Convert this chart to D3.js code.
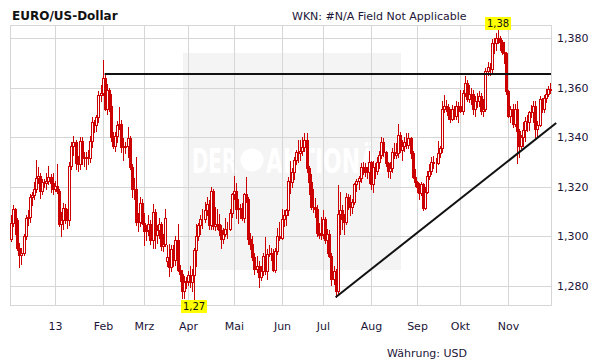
<!DOCTYPE html>
<html>
<head>
<meta charset="utf-8">
<script src="https://cdn.jsdelivr.net/npm/d3@7"></script>
<style>
  body { margin: 0; background: #fff; }
  svg { display: block; font-family: "DejaVu Sans", Verdana, sans-serif; }
</style>
</head>
<body>
<svg id="chart" width="611" height="364"></svg>
<script>
// daily EUR/USD bars, 3 Dec 2012 .. 29 Nov 2013 (weekdays), one line per month
const opens = [
  1.2990,1.3055,1.3110,1.3065,1.2955,1.2925,1.2935,1.3000,1.3075,1.3080,1.3160,1.3165,1.3190,1.3235,1.3245,1.3185,1.3220,1.3215,1.3225,1.3240,1.3215,
  1.3190,1.3205,1.3185,1.3050,1.3065,1.3115,1.3080,1.3065,1.3285,1.3365,1.3380,1.3295,1.3290,1.3385,1.3315,1.3320,1.3320,1.3315,1.3385,1.3460,1.3450,1.3480,1.3570,
  1.3580,1.3640,1.3515,1.3590,1.3525,1.3400,1.3365,1.3405,1.3450,1.3455,1.3360,1.3360,1.3365,1.3395,1.3280,1.3190,1.3190,1.3060,1.3060,1.3135,
  1.3055,1.3020,1.3025,1.3050,1.2985,1.3100,1.3005,1.3025,1.3050,1.2960,1.2970,1.2900,1.2915,1.2875,1.2950,1.2905,1.2985,1.2865,1.2850,1.2780,1.2815,
  1.2820,1.2845,1.2815,1.2845,1.2945,1.3000,1.3045,1.3070,1.3070,1.3105,1.3130,1.3045,1.3185,1.3040,1.3050,1.3050,1.3025,1.2990,1.3010,1.3030,1.3030,1.3095,
  1.3170,1.3185,1.3110,1.3115,1.3110,1.3075,1.3170,1.3150,1.2990,1.2970,1.2915,1.2870,1.2880,1.2835,1.2860,1.2920,1.2860,1.2930,1.2930,1.2935,1.2865,1.2940,1.3000,
  1.2995,1.3070,1.3085,1.3105,1.3225,1.3220,1.3260,1.3310,1.3340,1.3335,1.3345,1.3360,1.3390,1.3275,1.3220,1.3120,1.3120,1.3110,1.3015,1.3005,
  1.3010,1.3070,1.2985,1.3010,1.2920,1.2830,1.2860,1.2780,1.3090,1.3105,1.3070,1.3060,1.3160,1.3140,1.3120,1.3140,1.3210,1.3225,1.3235,1.3280,1.3280,1.3260,1.3260,
  1.3300,1.3210,1.3280,1.3265,1.3300,1.3330,1.3380,1.3340,1.3295,1.3265,1.3275,1.3340,1.3330,1.3335,1.3410,1.3350,1.3365,1.3380,1.3370,1.3395,1.3335,1.3240,
  1.3220,1.3200,1.3175,1.3210,1.3115,1.3180,1.3245,1.3265,1.3300,1.3295,1.3295,1.3335,1.3355,1.3515,1.3525,1.3520,1.3490,1.3475,1.3515,1.3485,1.3525,
  1.3525,1.3505,1.3580,1.3620,1.3555,1.3575,1.3575,1.3515,1.3545,1.3545,1.3565,1.3505,1.3515,1.3665,1.3685,1.3675,1.3780,1.3780,1.3800,1.3800,1.3785,1.3745,1.3740,
  1.3585,1.3485,1.3515,1.3455,1.3515,1.3425,1.3365,1.3400,1.3430,1.3465,1.3460,1.3500,1.3500,1.3525,1.3435,1.3450,1.3555,1.3515,1.3560,1.3575,1.3595
];
const highs = [
  1.3087,1.3128,1.3115,1.3075,1.2975,1.2955,1.3010,1.3085,1.3105,1.3170,1.3180,1.3220,1.3308,1.3280,1.3255,1.3230,1.3230,1.3255,1.3285,1.3250,1.3255,
  1.3225,1.3292,1.3190,1.3100,1.3135,1.3130,1.3110,1.3300,1.3380,1.3403,1.3390,1.3325,1.3400,1.3400,1.3340,1.3340,1.3350,1.3405,1.3480,1.3470,1.3490,1.3585,1.3610,
  1.3711,1.3660,1.3615,1.3600,1.3575,1.3420,1.3420,1.3465,1.3520,1.3470,1.3395,1.3380,1.3440,1.3405,1.3290,1.3235,1.3320,1.3095,1.3160,1.3150,
  1.3095,1.3045,1.3085,1.3065,1.3130,1.3110,1.3045,1.3075,1.3060,1.3010,1.3110,1.2965,1.2970,1.2965,1.2965,1.3000,1.3050,1.2885,1.2865,1.2840,1.2835,
  1.2860,1.2880,1.2870,1.2955,1.3050,1.3055,1.3085,1.3110,1.3140,1.3160,1.3145,1.3200,1.3190,1.3120,1.3110,1.3090,1.3045,1.3035,1.3075,1.3060,1.3110,1.3175,
  1.3243,1.3215,1.3150,1.3130,1.3135,1.3175,1.3240,1.3160,1.3015,1.3000,1.2935,1.2920,1.2900,1.2880,1.2935,1.2998,1.2950,1.2965,1.2955,1.2950,1.2955,1.3035,1.3060,
  1.3110,1.3105,1.3110,1.3240,1.3305,1.3275,1.3320,1.3350,1.3390,1.3390,1.3400,1.3415,1.3416,1.3285,1.3250,1.3190,1.3155,1.3125,1.3055,1.3080,
  1.3105,1.3080,1.3030,1.3025,1.2935,1.2880,1.2870,1.3206,1.3180,1.3125,1.3090,1.3175,1.3170,1.3165,1.3150,1.3215,1.3230,1.3245,1.3295,1.3300,1.3295,1.3280,1.3345,
  1.3305,1.3305,1.3295,1.3320,1.3345,1.3400,1.3395,1.3345,1.3300,1.3300,1.3355,1.3375,1.3375,1.3452,1.3420,1.3390,1.3400,1.3415,1.3415,1.3400,1.3345,1.3270,
  1.3225,1.3215,1.3220,1.3215,1.3200,1.3265,1.3290,1.3320,1.3325,1.3315,1.3385,1.3365,1.3545,1.3570,1.3550,1.3535,1.3515,1.3530,1.3525,1.3545,1.3540,
  1.3590,1.3590,1.3646,1.3630,1.3610,1.3600,1.3590,1.3565,1.3580,1.3585,1.3580,1.3555,1.3680,1.3705,1.3700,1.3795,1.3800,1.3820,1.3832,1.3810,1.3790,1.3785,1.3745,
  1.3590,1.3525,1.3535,1.3535,1.3545,1.3435,1.3410,1.3460,1.3480,1.3490,1.3505,1.3530,1.3545,1.3545,1.3465,1.3565,1.3560,1.3570,1.3595,1.3605,1.3620
];
const lows = [
  1.2980,1.3040,1.3010,1.2945,1.2877,1.2890,1.2925,1.2990,1.3045,1.3060,1.3125,1.3150,1.3180,1.3215,1.3155,1.3170,1.3200,1.3190,1.3210,1.3180,1.3170,
  1.3185,1.3175,1.3040,1.3000,1.3030,1.3055,1.3035,1.3045,1.3270,1.3330,1.3270,1.3265,1.3270,1.3290,1.3285,1.3270,1.3290,1.3300,1.3360,1.3420,1.3425,1.3460,1.3545,
  1.3570,1.3510,1.3495,1.3505,1.3385,1.3355,1.3345,1.3380,1.3435,1.3340,1.3310,1.3335,1.3320,1.3270,1.3160,1.3150,1.3045,1.3020,1.3040,1.3050,
  1.2965,1.2985,1.3005,1.2970,1.2955,1.2955,1.2975,1.2995,1.2945,1.2940,1.2960,1.2880,1.2840,1.2860,1.2880,1.2885,1.2860,1.2820,1.2750,1.2750,1.2790,
  1.2805,1.2795,1.2780,1.2745,1.2880,1.2985,1.3010,1.3035,1.3060,1.3085,1.3030,1.3030,1.3030,1.3025,1.3030,1.3005,1.2955,1.2975,1.3000,1.2995,1.3025,1.3080,
  1.3150,1.3075,1.3055,1.3075,1.3065,1.3060,1.3140,1.2970,1.2950,1.2905,1.2850,1.2855,1.2796,1.2825,1.2845,1.2850,1.2830,1.2920,1.2905,1.2860,1.2855,1.2930,1.2985,
  1.2990,1.3040,1.3045,1.3085,1.3175,1.3200,1.3230,1.3290,1.3300,1.3310,1.3330,1.3345,1.3260,1.3170,1.3110,1.3100,1.3080,1.3000,1.2995,1.2990,
  1.2995,1.2975,1.2935,1.2915,1.2805,1.2810,1.2755,1.2765,1.3010,1.3030,1.3010,1.3050,1.3110,1.3085,1.3095,1.3130,1.3185,1.3190,1.3220,1.3250,1.3245,1.3235,1.3215,
  1.3190,1.3180,1.3235,1.3250,1.3275,1.3315,1.3325,1.3285,1.3240,1.3235,1.3260,1.3315,1.3315,1.3320,1.3340,1.3310,1.3345,1.3355,1.3355,1.3315,1.3235,1.3205,
  1.3180,1.3150,1.3165,1.3105,1.3110,1.3175,1.3230,1.3250,1.3275,1.3260,1.3290,1.3320,1.3340,1.3500,1.3505,1.3475,1.3460,1.3470,1.3475,1.3475,1.3460,
  1.3500,1.3495,1.3565,1.3545,1.3540,1.3535,1.3495,1.3485,1.3520,1.3525,1.3495,1.3485,1.3505,1.3650,1.3650,1.3655,1.3740,1.3750,1.3780,1.3750,1.3735,1.3700,1.3575,
  1.3480,1.3460,1.3440,1.3445,1.3295,1.3320,1.3355,1.3366,1.3385,1.3425,1.3430,1.3480,1.3460,1.3400,1.3400,1.3445,1.3500,1.3500,1.3540,1.3565,1.3580
];
const closes = [
  1.3055,1.3110,1.3065,1.2955,1.2925,1.2935,1.3000,1.3075,1.3080,1.3160,1.3165,1.3190,1.3235,1.3245,1.3185,1.3220,1.3215,1.3225,1.3240,1.3215,1.3190,
  1.3205,1.3185,1.3050,1.3065,1.3115,1.3080,1.3065,1.3285,1.3365,1.3380,1.3295,1.3290,1.3385,1.3315,1.3320,1.3320,1.3315,1.3385,1.3460,1.3450,1.3480,1.3570,1.3580,
  1.3640,1.3515,1.3590,1.3525,1.3400,1.3365,1.3405,1.3450,1.3455,1.3360,1.3360,1.3365,1.3395,1.3280,1.3190,1.3190,1.3060,1.3060,1.3135,1.3055,
  1.3020,1.3025,1.3050,1.2985,1.3100,1.3005,1.3025,1.3050,1.2960,1.2970,1.3075,1.2915,1.2875,1.2950,1.2905,1.2985,1.2865,1.2850,1.2780,1.2815,1.2820,
  1.2845,1.2815,1.2845,1.2945,1.3000,1.3045,1.3070,1.3070,1.3105,1.3130,1.3045,1.3185,1.3040,1.3050,1.3050,1.3025,1.2990,1.3010,1.3030,1.3030,1.3095,1.3170,
  1.3185,1.3110,1.3115,1.3110,1.3075,1.3170,1.3150,1.2990,1.2970,1.2915,1.2870,1.2880,1.2835,1.2860,1.2920,1.2860,1.2930,1.2930,1.2935,1.2865,1.2940,1.3000,1.2995,
  1.3070,1.3085,1.3105,1.3225,1.3220,1.3260,1.3310,1.3340,1.3335,1.3345,1.3360,1.3390,1.3275,1.3220,1.3120,1.3120,1.3110,1.3015,1.3005,1.3010,
  1.3070,1.2985,1.3010,1.2920,1.2830,1.2860,1.2780,1.3090,1.3105,1.3070,1.3060,1.3160,1.3140,1.3120,1.3140,1.3210,1.3225,1.3235,1.3280,1.3280,1.3260,1.3260,1.3300,
  1.3210,1.3280,1.3265,1.3300,1.3330,1.3380,1.3340,1.3295,1.3265,1.3275,1.3340,1.3330,1.3335,1.3410,1.3350,1.3365,1.3380,1.3370,1.3395,1.3335,1.3240,1.3220,
  1.3200,1.3175,1.3210,1.3115,1.3180,1.3245,1.3265,1.3300,1.3295,1.3295,1.3335,1.3355,1.3515,1.3525,1.3520,1.3490,1.3475,1.3515,1.3485,1.3525,1.3525,
  1.3505,1.3580,1.3620,1.3555,1.3575,1.3575,1.3515,1.3545,1.3545,1.3565,1.3505,1.3515,1.3665,1.3685,1.3675,1.3780,1.3780,1.3800,1.3800,1.3785,1.3745,1.3740,1.3585,
  1.3485,1.3515,1.3455,1.3515,1.3425,1.3365,1.3400,1.3430,1.3465,1.3460,1.3500,1.3500,1.3525,1.3435,1.3450,1.3555,1.3515,1.3560,1.3575,1.3595,1.3590
];

const firstDay = '2012-12-03';
const lastDay = '2013-11-29';
const monthLabels = ['13', 'Feb', 'Mrz', 'Apr', 'Mai', 'Jun', 'Jul', 'Aug', 'Sep', 'Okt', 'Nov'];
const yTicks = [1.28, 1.30, 1.32, 1.34, 1.36, 1.38];

// drawn lines: [bar index, value]
const resistance = [[45, 1.3655], [259.5, 1.3655]];
const trend = [[156, 1.2755], [262, 1.3457]];

const title = 'EURO/US-Dollar';
const wkn = 'WKN: #N/A Field Not Applicable';
const currency = 'Währung: USD';

// trading days (weekdays only)
const parse = d3.timeParse('%Y-%m-%d');
const dates = d3.timeDay.range(parse(firstDay), d3.timeDay.offset(parse(lastDay), 1))
    .filter(d => d.getDay() !== 0 && d.getDay() !== 6);

const bars = dates.map((d, i) => ({ date: d, i: i, o: opens[i], h: highs[i], l: lows[i], c: closes[i] }));

// first bar of every month from January on
const monthStarts = [];
dates.forEach((d, i) => {
    if (i > 0 && d.getMonth() !== dates[i - 1].getMonth()) monthStarts.push(i);
});

const svg = d3.select('#chart');
const box = { left: 10, right: 551, top: 25, bottom: 305 };
const red = '#cc0000';
const grid = '#d6d6d6';
const labelColor = '#1c1538';

const de = d3.formatLocale({ decimal: ',', thousands: '.', grouping: [3], currency: ['', ''] });

const xScale = d3.scaleLinear()
    .domain([-0.5, bars.length - 0.5])
    .range([box.left, box.right]);

const yScale = d3.scaleLinear()
    .domain([1.28, 1.38])
    .range([286, 38]);

const crisp = v => Math.round(v) + 0.5;

// watermark
svg.append('rect')
    .attr('x', 183).attr('y', 53)
    .attr('width', 218).attr('height', 217)
    .attr('fill', '#f4f4f4');

const wm = svg.append('g').attr('fill', '#ffffff').style('font-weight', 'bold').style('font-size', '34px');
wm.append('text').attr('x', 192).attr('y', 173)
    .attr('textLength', 45).attr('lengthAdjust', 'spacingAndGlyphs').text('DER');
wm.append('circle').attr('cx', 252).attr('cy', 160).attr('r', 11.5);
wm.append('text').attr('x', 266).attr('y', 173)
    .attr('textLength', 128).attr('lengthAdjust', 'spacingAndGlyphs').text('AKTIONÄR');

// y axis + horizontal grid
const yAxisG = svg.append('g')
    .attr('transform', `translate(${box.right},0)`)
    .call(d3.axisRight(yScale)
        .tickValues(yTicks)
        .tickSize(-(box.right - box.left))
        .tickPadding(6)
        .tickFormat(de.format('.3f')));
yAxisG.select('.domain').remove();
yAxisG.selectAll('.tick').attr('transform', d => `translate(0,${crisp(yScale(d))})`);
yAxisG.selectAll('.tick line').attr('stroke', grid).attr('y1', 0).attr('y2', 0);
yAxisG.selectAll('.tick text')
    .attr('fill', labelColor)
    .style('font-size', '11px')
    .style('font-family', '"DejaVu Sans", Verdana, sans-serif');

// x axis + vertical grid
const xAxisG = svg.append('g')
    .attr('transform', `translate(0,${box.bottom})`)
    .call(d3.axisBottom(xScale)
        .tickValues(monthStarts)
        .tickSize(-(box.bottom - box.top))
        .tickPadding(17)
        .tickFormat((d, i) => monthLabels[i]));
xAxisG.select('.domain').remove();
xAxisG.selectAll('.tick').attr('transform', d => `translate(${crisp(xScale(d))},0)`);
xAxisG.selectAll('.tick line').attr('stroke', grid).attr('x1', 0).attr('x2', 0);
xAxisG.selectAll('.tick text')
    .attr('fill', labelColor)
    .style('font-size', '11px')
    .style('font-family', '"DejaVu Sans", Verdana, sans-serif');

// frame
svg.append('rect')
    .attr('x', box.left + 0.5).attr('y', box.top + 0.5)
    .attr('width', box.right - box.left).attr('height', box.bottom - box.top)
    .attr('fill', 'none').attr('stroke', grid);

// candles: wick first, body on top (hollow when rising, filled when falling)
const candles = svg.append('g');
candles.selectAll('line')
    .data(bars)
    .join('line')
    .attr('x1', d => crisp(xScale(d.i)))
    .attr('x2', d => crisp(xScale(d.i)))
    .attr('y1', d => Math.round(yScale(d.h)))
    .attr('y2', d => Math.round(yScale(d.l)) + 1)
    .attr('stroke', red);

candles.selectAll('rect')
    .data(bars)
    .join('rect')
    .attr('x', d => Math.round(xScale(d.i)) - 0.5)
    .attr('y', d => Math.round(yScale(Math.max(d.o, d.c))) + 0.5)
    .attr('width', 2)
    .attr('height', d => Math.max(0, Math.round(yScale(Math.min(d.o, d.c))) - Math.round(yScale(Math.max(d.o, d.c)))))
    .attr('fill', d => d.c >= d.o ? '#ffffff' : red)
    .attr('stroke', red);

// resistance and trend lines
const line = d3.line().x(d => xScale(d[0])).y(d => yScale(d[1]));
svg.append('path')
    .attr('d', line(resistance))
    .attr('fill', 'none').attr('stroke', '#111').attr('stroke-width', 2);
svg.append('path')
    .attr('d', line(trend))
    .attr('fill', 'none').attr('stroke', '#111').attr('stroke-width', 2);

// high / low markers
const hiBar = bars.reduce((a, b) => b.h > a.h ? b : a);
const loBar = bars.reduce((a, b) => b.l < a.l ? b : a);
const fmt2 = de.format('.2f');
const markers = [
    { bar: hiBar, v: hiBar.h, top: Math.round(yScale(hiBar.h)) - 13 },
    { bar: loBar, v: loBar.l, top: Math.round(yScale(loBar.l)) }
];
const mk = svg.append('g').selectAll('g')
    .data(markers)
    .join('g')
    .attr('transform', d => `translate(${Math.round(xScale(d.bar.i))},${d.top})`);
mk.append('rect')
    .attr('x', -13).attr('y', 0)
    .attr('width', 26).attr('height', 13)
    .attr('fill', '#ffff00');
mk.append('text')
    .attr('x', 0).attr('y', 10)
    .attr('text-anchor', 'middle')
    .style('font-size', '10px')
    .attr('fill', '#111')
    .text(d => fmt2(d.v));

// texts
svg.append('text')
    .attr('x', 12).attr('y', 19.5)
    .style('font-size', '12px').style('font-weight', 'bold')
    .attr('fill', '#111')
    .text(title);
svg.append('text')
    .attr('x', 292).attr('y', 20)
    .style('font-size', '11px')
    .attr('fill', labelColor)
    .text(wkn);
svg.append('text')
    .attr('x', 387).attr('y', 357)
    .style('font-size', '11px')
    .attr('fill', labelColor)
    .text(currency);
</script>
</body>
</html>
